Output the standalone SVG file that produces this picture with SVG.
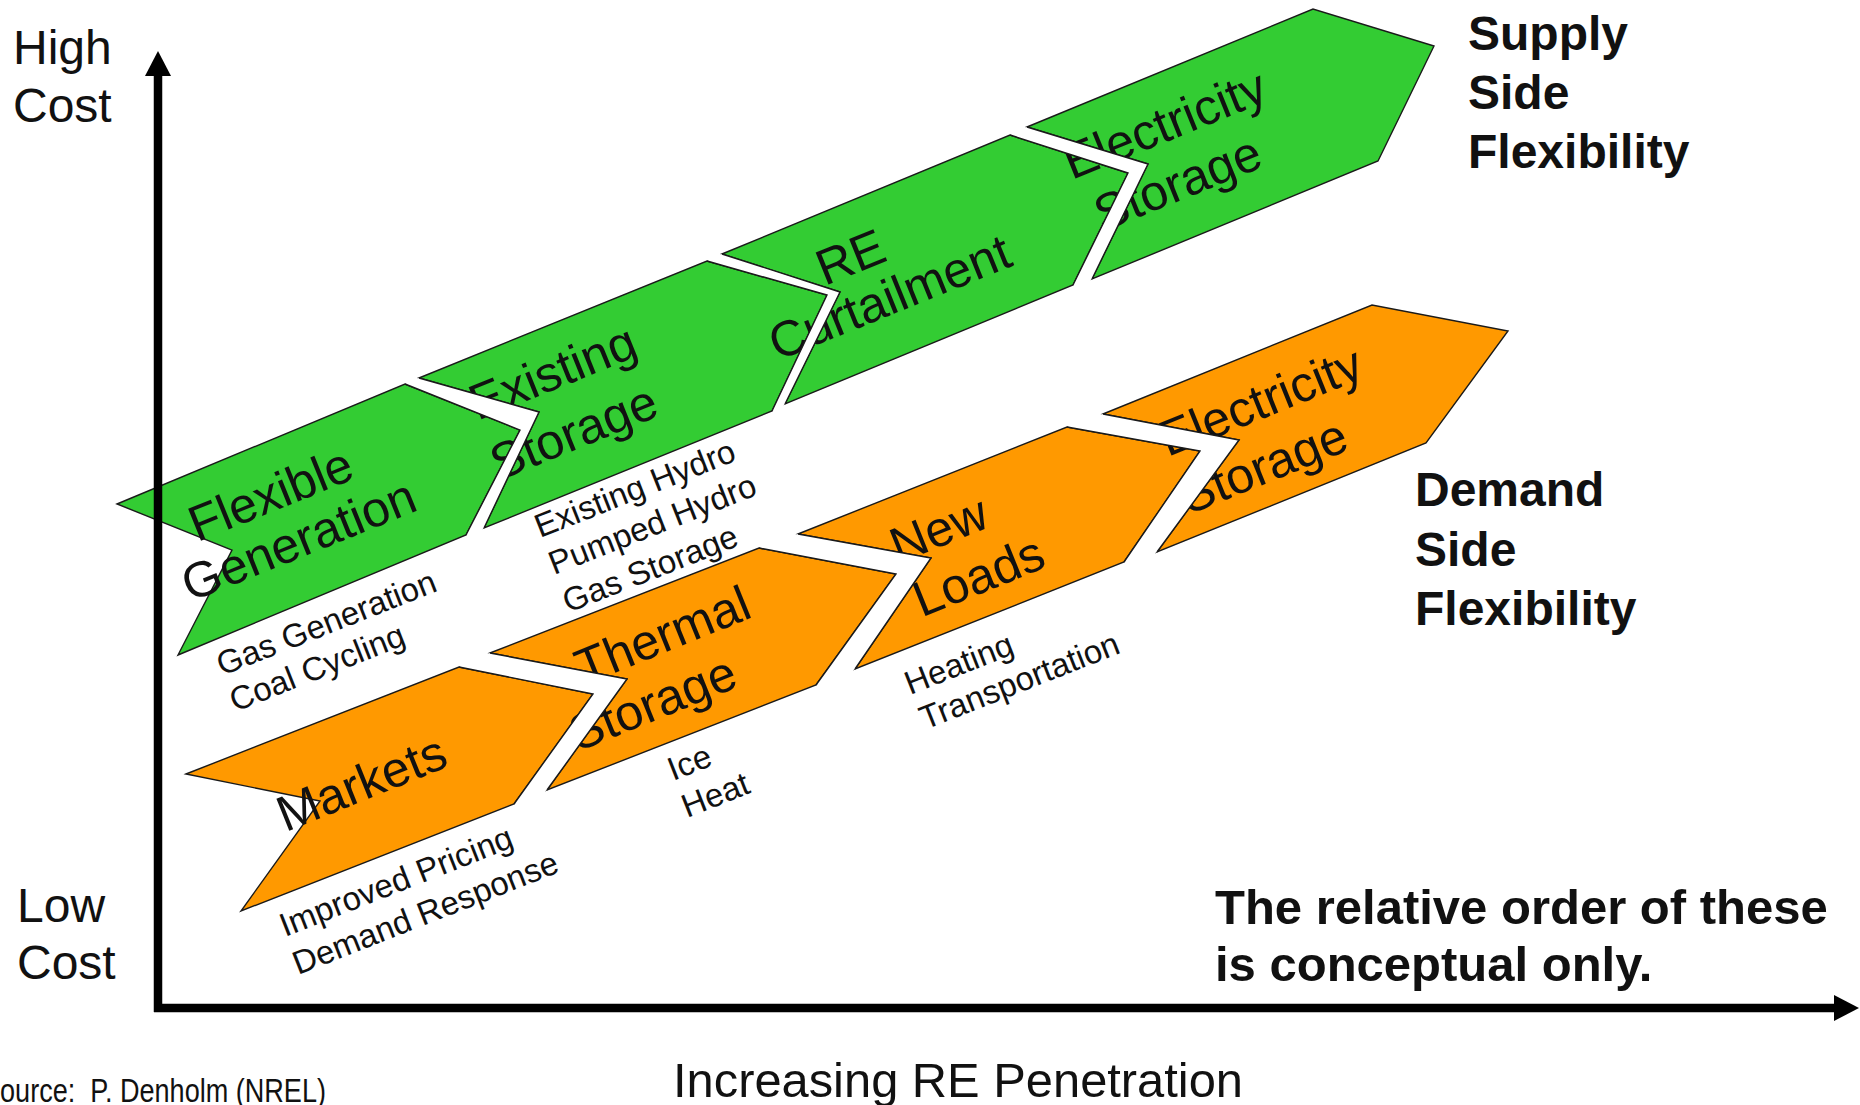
<svg xmlns="http://www.w3.org/2000/svg" width="1860" height="1105" viewBox="0 0 1860 1105">
<style>
  text { font-family: "Liberation Sans", Arial, sans-serif; fill: #111; }
  .big { font-size: 50px; text-anchor: middle; }
  .sub { font-size: 33px; }
  .axis-label { font-size: 48px; }
  .bold { font-size: 48px; font-weight: bold; }
  .note { font-size: 49px; font-weight: bold; }
  .green { fill: #33CC33; stroke: #1a1a1a; stroke-width: 1.4; stroke-linejoin: miter; }
  .orange { fill: #FF9900; stroke: #1a1a1a; stroke-width: 1.4; stroke-linejoin: miter; }
  .gap { fill: #fff; stroke: none; }
  .edge { fill: none; stroke: #1a1a1a; stroke-width: 1.4; stroke-linejoin: miter; }
  .axis { stroke: #000; stroke-width: 8.5; fill: none; }
</style>
<defs>
  <marker id="arrowhead" markerUnits="userSpaceOnUse" markerWidth="25" markerHeight="26" viewBox="0 0 25 26" refX="0" refY="13" orient="auto">
    <path d="M0,0 L25,13 L0,26 z" fill="#000"/>
  </marker>
</defs>
<rect x="0" y="0" width="1860" height="1105" fill="#fff"/>

<!-- Supply side flexibility chevrons -->
<g id="flexible-generation">
  <polygon class="green" points="117,504 405,384 520,430 466,535 178,655 232,550"/>
  <text class="big" transform="translate(277,510) rotate(-22)">Flexible</text>
  <text class="big" transform="translate(305,556) rotate(-22)">Generation</text>
</g>
<g id="existing-storage">
  <polygon class="green" points="419,378 707,261 827,295 772,411 484,528 539,412"/>
  <text class="big" transform="translate(559,388) rotate(-22)">Existing</text>
  <text class="big" transform="translate(580,448) rotate(-22)">Storage</text>
</g>
<g id="re-curtailment">
  <polygon class="green" points="722,254 1010,135 1128,173 1073,285 785,404 840,292"/>
  <text class="big" transform="translate(857,273) rotate(-22)">RE</text>
  <text class="big" transform="translate(896,313) rotate(-22)">Curtailment</text>
</g>
<g id="supply-electricity-storage">
  <polygon class="green" points="1027,127 1313,9 1434,46 1378,161 1092,279 1148,164"/>
  <text class="big" transform="translate(1171,140) rotate(-22)">Electricity</text>
  <text class="big" transform="translate(1184,199) rotate(-22)">Storage</text>
</g>

<!-- Demand side flexibility chevrons -->
<g id="markets">
  <polygon class="orange" points="186,774 459,667 593,694 514,804 241,911 320,801"/>
  <text class="big" transform="translate(368,799) rotate(-22)">Markets</text>
</g>
<g id="thermal-storage">
  <polygon class="orange" points="490,653 759,548 896,574 816,685 547,790 627,679"/>
  <text class="big" transform="translate(669,651) rotate(-22)">Thermal</text>
  <text class="big" transform="translate(659,719) rotate(-22)">Storage</text>
</g>
<g id="new-loads">
  <polygon class="orange" points="798,534 1067,427 1200,451 1124,562 855,669 931,558"/>
  <text class="big" transform="translate(945,545) rotate(-22)">New</text>
  <text class="big" transform="translate(985,592) rotate(-22)">Loads</text>
</g>
<g id="demand-electricity-storage">
  <polygon class="orange" points="1103,414 1372,305 1508,331 1426,443 1157,552 1239,440"/>
  <text class="big" transform="translate(1267,417) rotate(-22)">Electricity</text>
  <text class="big" transform="translate(1270,482) rotate(-22)">Storage</text>
</g>

<!-- White gaps between neighbouring chevrons (drawn over the labels) -->
<g id="chevron-gaps">
  <polygon class="gap" points="419,378 539,412 484,528 466,535 520,430 405,384"/>
  <polyline class="edge" points="419,378 539,412 484,528"/>
  <polyline class="edge" points="405,384 520,430 466,535"/>
  <polygon class="gap" points="722,254 840,292 785,404 772,411 827,295 707,261"/>
  <polyline class="edge" points="722,254 840,292 785,404"/>
  <polyline class="edge" points="707,261 827,295 772,411"/>
  <polygon class="gap" points="1027,127 1148,164 1092,279 1073,285 1128,173 1010,135"/>
  <polyline class="edge" points="1027,127 1148,164 1092,279"/>
  <polyline class="edge" points="1010,135 1128,173 1073,285"/>
  <polygon class="gap" points="490,653 627,679 547,790 514,804 593,694 459,667"/>
  <polyline class="edge" points="490,653 627,679 547,790"/>
  <polyline class="edge" points="459,667 593,694 514,804"/>
  <polygon class="gap" points="798,534 931,558 855,669 816,685 896,574 759,548"/>
  <polyline class="edge" points="798,534 931,558 855,669"/>
  <polyline class="edge" points="759,548 896,574 816,685"/>
  <polygon class="gap" points="1103,414 1239,440 1157,552 1124,562 1200,451 1067,427"/>
  <polyline class="edge" points="1103,414 1239,440 1157,552"/>
  <polyline class="edge" points="1067,427 1200,451 1124,562"/>
</g>

<!-- Example sub-labels -->
<g id="flexible-generation-examples">
  <text class="sub" transform="translate(222,676) rotate(-21.5)">Gas Generation</text>
  <text class="sub" transform="translate(235,712) rotate(-21.5)">Coal Cycling</text>
</g>
<g id="existing-storage-examples">
  <text class="sub" transform="translate(540,538) rotate(-21.5)">Existing Hydro</text>
  <text class="sub" transform="translate(554,575) rotate(-21.5)">Pumped Hydro</text>
  <text class="sub" transform="translate(568,613) rotate(-21.5)">Gas Storage</text>
</g>
<g id="markets-examples">
  <text class="sub" transform="translate(285,937) rotate(-21.5)">Improved Pricing</text>
  <text class="sub" transform="translate(298,975) rotate(-21.5)">Demand Response</text>
</g>
<g id="thermal-storage-examples">
  <text class="sub" transform="translate(673,781) rotate(-21.5)">Ice</text>
  <text class="sub" transform="translate(687,818) rotate(-21.5)">Heat</text>
</g>
<g id="new-loads-examples">
  <text class="sub" transform="translate(910,695) rotate(-21.5)">Heating</text>
  <text class="sub" transform="translate(925,730) rotate(-21.5)">Transportation</text>
</g>

<!-- Axes -->
<g id="connectors">
  <line class="axis" x1="158" y1="1012" x2="158" y2="76" marker-end="url(#arrowhead)"/>
  <line class="axis" x1="154" y1="1008" x2="1834" y2="1008" marker-end="url(#arrowhead)"/>
</g>

<!-- Axis labels -->
<g id="axis-labels">
  <text class="axis-label" x="13" y="64">High</text>
  <text class="axis-label" x="13" y="122">Cost</text>
  <text class="axis-label" x="17" y="922">Low</text>
  <text class="axis-label" x="17" y="979">Cost</text>
  <text class="axis-label" x="673" y="1097" font-size="49" textLength="570" lengthAdjust="spacingAndGlyphs">Increasing RE Penetration</text>
</g>

<g id="supply-side-title">
  <text class="bold" x="1468" y="50">Supply</text>
  <text class="bold" x="1468" y="109">Side</text>
  <text class="bold" x="1468" y="168">Flexibility</text>
</g>
<g id="demand-side-title">
  <text class="bold" x="1415" y="506">Demand</text>
  <text class="bold" x="1415" y="566">Side</text>
  <text class="bold" x="1415" y="625">Flexibility</text>
</g>
<g id="note">
  <text class="note" x="1215" y="924">The relative order of these</text>
  <text class="note" x="1215" y="981">is conceptual only.</text>
</g>
<g id="source">
  <text x="-18" y="1102" font-size="33" textLength="344" lengthAdjust="spacingAndGlyphs" xml:space="preserve" style="white-space:pre">Source:  P. Denholm (NREL)</text>
</g>
</svg>
